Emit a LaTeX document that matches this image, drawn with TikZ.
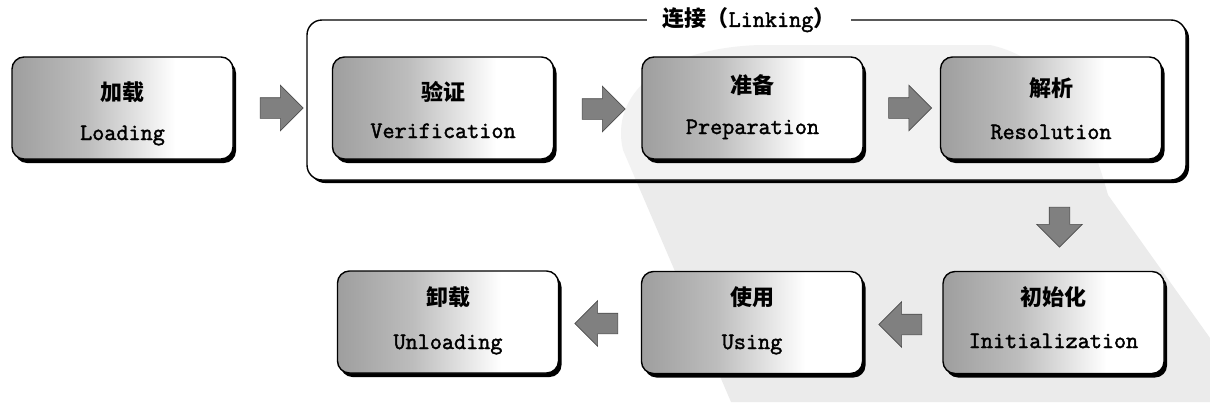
\documentclass[tikz,border=0pt]{standalone}
\usepackage{fontspec}
\newfontfamily\cjk{Noto Sans CJK SC}
\newfontfamily\enmono{Latin Modern Mono}[FakeBold=1.8]
\usetikzlibrary{shapes.arrows,shadows,calc}
\pgfdeclarehorizontalshading{boxshade}{100bp}{color(0bp)=(black!38); color(25bp)=(black!38); color(42bp)=(black!26); color(62bp)=(white); color(100bp)=(white)}
\tikzset{
  stagebox/.style={draw=black, line width=1.4pt, rounded corners=12pt,
    minimum width=221pt, minimum height=102pt, inner sep=0pt,
    shade, shading=boxshade,
    drop shadow={shadow xshift=3pt, shadow yshift=-4pt, opacity=1, fill=black}},
  cntext/.style={font=\cjk\bfseries\fontsize{22}{24}\selectfont, inner sep=0pt,
    text height=0.88em, text depth=0.12em},
  entext/.style={font=\enmono\fontsize{23.5}{25}\selectfont, inner sep=0pt,
    text height=0.6em, text depth=0pt},
  flow/.style={single arrow, single arrow head extend=12.5pt,
    minimum height=43pt, inner xsep=0pt, inner ysep=10pt,
    fill=black!50, draw=black!70, line width=0.6pt},
  wmark/.style={fill=black!8},
  linkframe/.style={line width=1.4pt, rounded corners=15pt},
}
\newcommand{\stagenode}[7]{%
  \node[stagebox] (#1) at (#2,#3) {};
  \node[cntext] (#1cn) at (#2,#6) {#4};
  \node[entext] (#1en) at (#2,#7) {#5};
}
\newcommand{\wmpath}{(731,402) -- (623,150) .. controls (610,95) and (660,48) .. (760,45) -- (990,45) .. controls (1060,60) and (1090,130) .. (1108,195) -- (1210,338) -- (1210,402) -- cycle}
\begin{document}
\begin{tikzpicture}[x=1pt,y=-1pt]
\useasboundingbox[fill=white] (0,0) rectangle (1210,402);
% watermark
\fill[wmark] \wmpath;
% linking frame
\path[linkframe, fill=white, drop shadow={shadow xshift=3pt, shadow yshift=-3pt, opacity=1, fill=black}] (307,20) rectangle (1186,180);
\begin{scope}
  \clip[rounded corners=15pt] (307,20) rectangle (1186,180);
  \fill[black!5] \wmpath;
\end{scope}
\draw[linkframe] (307,20) rectangle (1186,180);
\node[fill=white, inner xsep=16pt, inner ysep=2pt] (linktitle) at (749,20)
  {\cjk\bfseries\fontsize{22}{24}\selectfont 连接（\enmono\fontsize{23.5}{25}\selectfont Linking\cjk\bfseries\fontsize{22}{24}\selectfont ）};
% stages
\stagenode{load}{122.5}{108}{加载}{Loading}{97}{137}
\stagenode{verif}{443}{108}{验证}{Verification}{97}{135}
\stagenode{prep}{752.5}{108}{准备}{Preparation}{90}{131}
\stagenode{resol}{1051}{108}{解析}{Resolution}{93}{136}
\stagenode{init}{1053.5}{322.5}{初始化}{Initialization}{302}{345}
\stagenode{using}{752}{322.5}{使用}{Using}{302}{346}
\stagenode{unload}{448}{322}{卸载}{Unloading}{302}{346}
% arrows
\node[flow] (a1) at (276.5,108) {};
\node[flow] (a2) at (598.5,109) {};
\node[flow] (a3) at (905,108) {};
\node[flow, rotate=-90, minimum height=40pt] (a4) at (1059.5,222) {};
\node[flow, rotate=180] (a5) at (905.5,324.5) {};
\node[flow, rotate=180] (a6) at (601.5,323.5) {};
\end{tikzpicture}
\end{document}
